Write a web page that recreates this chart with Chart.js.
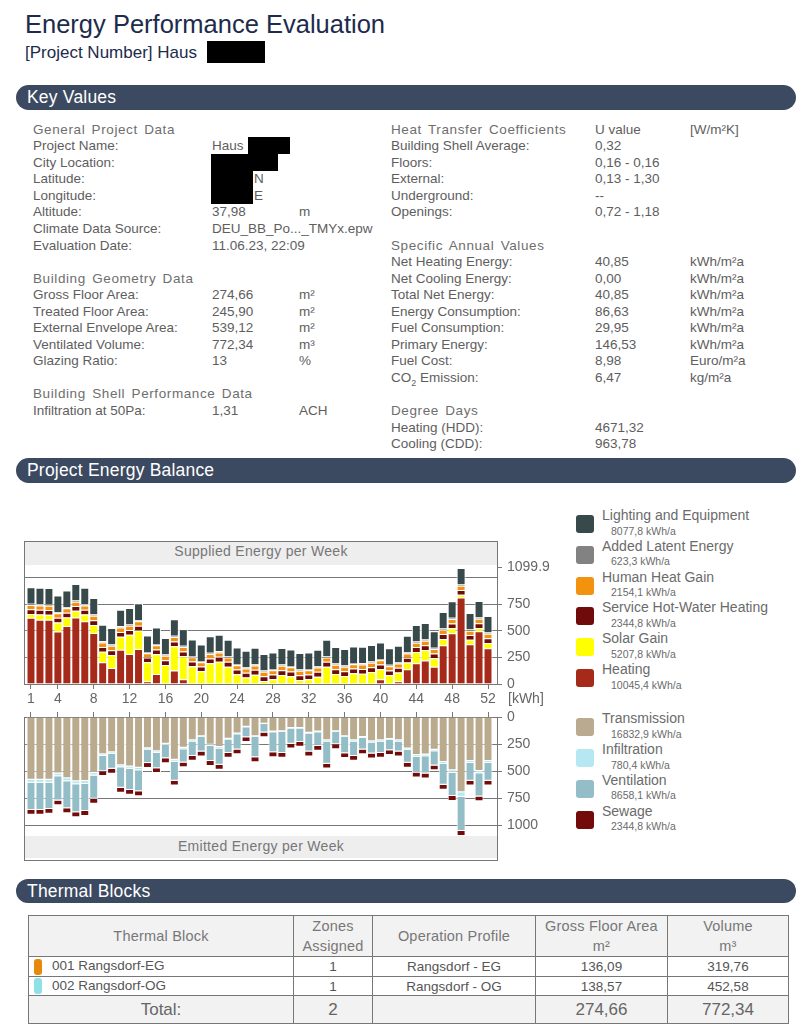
<!DOCTYPE html>
<html>
<head>
<meta charset="utf-8">
<title>Energy Performance Evaluation</title>
<script src="https://cdn.jsdelivr.net/npm/chart.js@4.4.0/dist/chart.umd.min.js"></script>
<style>
  body { margin: 0; background: #fff; font-family: "Liberation Sans", Arial, sans-serif; }
  #page { position: relative; width: 806px; height: 1029px; overflow: hidden; }
  .abs { position: absolute; }
  .title { left: 25px; top: 11.7px; font-size: 25.5px; line-height: 25.5px; color: #1d2b4c; white-space: nowrap; }
  .subtitle { left: 25px; top: 43.6px; font-size: 17px; line-height: 17px; color: #1d2b4c; white-space: nowrap; }
  .blk { position: absolute; background: #000; }
  .bar { left: 16px; width: 780px; height: 25px; border-radius: 12.5px; background: #3c4a61; color: #fff;
         font-size: 17.5px; line-height: 25px; box-sizing: border-box; padding-left: 11px; letter-spacing: 0.2px; }
  .col { font-size: 13.5px; color: #5e5e5e; }
  .row { position: relative; height: 16.55px; line-height: 16.55px; white-space: nowrap; }
  .row .v, .row .u { position: absolute; top: 0; }
  .hd { color: #6e6e6e; letter-spacing: 0.6px; word-spacing: 2px; }
  .chartbox { border: 1px solid #777; box-sizing: border-box; }
  .band { position: absolute; left: 0; right: 0; background: #eeeeee; color: #777; font-size: 14px;
          text-align: center; letter-spacing: 0.3px; }
  canvas { position: absolute; }
  .lg-sq { position: absolute; width: 18px; height: 18px; border-radius: 3px; }
  .lg-name { position: absolute; font-size: 14px; line-height: 16px; color: #6b6b6b; white-space: nowrap; }
  .lg-val { position: absolute; font-size: 10.5px; line-height: 12px; color: #6b6b6b; white-space: nowrap; }
  table.tb { position: absolute; left: 28px; top: 915px; border-collapse: collapse; table-layout: fixed; }
  table.tb td { border: 1px solid #777; padding: 0; text-align: center; color: #555; font-size: 13.5px; white-space: nowrap; }
  table.tb tr.h td { background: #f2f2f2; color: #777; font-size: 14.5px; line-height: 20px; letter-spacing: 0.2px; }
  table.tb tr.t td { background: #f2f2f2; color: #666; font-size: 17px; }
  .mk { display: inline-block; width: 8px; height: 16px; border-radius: 3px; vertical-align: middle; margin: 0 10px 0 5px; }
</style>
</head>
<body>
<div id="page">

  <div class="abs title">Energy Performance Evaluation</div>
  <div class="abs subtitle">[Project Number] Haus</div>
  <div class="blk" style="left:207px;top:41px;width:58px;height:22px;"></div>

  <!-- Key Values -->
  <div class="abs bar" style="top:85px;">Key Values</div>

  <div class="abs col" style="left:33px;top:121.7px;width:340px;">
    <div class="row hd">General Project Data</div>
    <div class="row">Project Name:<span class="v" style="left:179px">Haus</span><span class="blk" style="left:215px;top:-1px;width:42px;height:17px"></span></div>
    <div class="row">City Location:<span class="blk" style="left:178px;top:-1px;width:67px;height:17px"></span></div>
    <div class="row">Latitude:<span class="blk" style="left:178px;top:-1px;width:42px;height:17px"></span><span class="v" style="left:221px">N</span></div>
    <div class="row">Longitude:<span class="blk" style="left:178px;top:-1px;width:42px;height:17px"></span><span class="v" style="left:221px">E</span></div>
    <div class="row">Altitude:<span class="v" style="left:179px">37,98</span><span class="u" style="left:266px">m</span></div>
    <div class="row">Climate Data Source:<span class="v" style="left:179px">DEU_BB_Po..._TMYx.epw</span></div>
    <div class="row">Evaluation Date:<span class="v" style="left:179px">11.06.23, 22:09</span></div>
    <div class="row"></div>
    <div class="row hd">Building Geometry Data</div>
    <div class="row">Gross Floor Area:<span class="v" style="left:179px">274,66</span><span class="u" style="left:266px">m²</span></div>
    <div class="row">Treated Floor Area:<span class="v" style="left:179px">245,90</span><span class="u" style="left:266px">m²</span></div>
    <div class="row">External Envelope Area:<span class="v" style="left:179px">539,12</span><span class="u" style="left:266px">m²</span></div>
    <div class="row">Ventilated Volume:<span class="v" style="left:179px">772,34</span><span class="u" style="left:266px">m³</span></div>
    <div class="row">Glazing Ratio:<span class="v" style="left:179px">13</span><span class="u" style="left:266px">%</span></div>
    <div class="row"></div>
    <div class="row hd">Building Shell Performance Data</div>
    <div class="row">Infiltration at 50Pa:<span class="v" style="left:179px">1,31</span><span class="u" style="left:266px">ACH</span></div>
  </div>

  <div class="abs col" style="left:391px;top:121.7px;width:400px;">
    <div class="row"><span class="hd">Heat Transfer Coefficients</span><span class="v" style="left:204px">U value</span><span class="u" style="left:299px">[W/m²K]</span></div>
    <div class="row">Building Shell Average:<span class="v" style="left:204px">0,32</span></div>
    <div class="row">Floors:<span class="v" style="left:204px">0,16 - 0,16</span></div>
    <div class="row">External:<span class="v" style="left:204px">0,13 - 1,30</span></div>
    <div class="row">Underground:<span class="v" style="left:204px">--</span></div>
    <div class="row">Openings:<span class="v" style="left:204px">0,72 - 1,18</span></div>
    <div class="row"></div>
    <div class="row hd">Specific Annual Values</div>
    <div class="row">Net Heating Energy:<span class="v" style="left:204px">40,85</span><span class="u" style="left:299px">kWh/m²a</span></div>
    <div class="row">Net Cooling Energy:<span class="v" style="left:204px">0,00</span><span class="u" style="left:299px">kWh/m²a</span></div>
    <div class="row">Total Net Energy:<span class="v" style="left:204px">40,85</span><span class="u" style="left:299px">kWh/m²a</span></div>
    <div class="row">Energy Consumption:<span class="v" style="left:204px">86,63</span><span class="u" style="left:299px">kWh/m²a</span></div>
    <div class="row">Fuel Consumption:<span class="v" style="left:204px">29,95</span><span class="u" style="left:299px">kWh/m²a</span></div>
    <div class="row">Primary Energy:<span class="v" style="left:204px">146,53</span><span class="u" style="left:299px">kWh/m²a</span></div>
    <div class="row">Fuel Cost:<span class="v" style="left:204px">8,98</span><span class="u" style="left:299px">Euro/m²a</span></div>
    <div class="row">CO<sub style="font-size:9px;line-height:0">2</sub> Emission:<span class="v" style="left:204px">6,47</span><span class="u" style="left:299px">kg/m²a</span></div>
    <div class="row"></div>
    <div class="row hd">Degree Days</div>
    <div class="row">Heating (HDD):<span class="v" style="left:204px">4671,32</span></div>
    <div class="row">Cooling (CDD):<span class="v" style="left:204px">963,78</span></div>
  </div>

  <!-- Project Energy Balance -->
  <div class="abs bar" style="top:458px;">Project Energy Balance</div>

  <div class="abs chartbox" style="left:24px;top:541px;width:474px;height:144px;">
    <div class="band" style="top:0;height:23px;line-height:18px;">Supplied Energy per Week</div>
  </div>
  <div class="abs chartbox" style="left:24px;top:717px;width:474px;height:144px;">
    <div class="band" style="top:118px;height:22px;line-height:21px;">Emitted Energy per Week</div>
  </div>
  <canvas id="chartSupply" width="544" height="152" style="left:20px;top:556px;"></canvas>
  <canvas id="chartEmit" width="544" height="132" style="left:20px;top:704px;"></canvas>
  <div class="abs" style="left:508px;top:690px;font-size:14px;line-height:16px;color:#666;">[kWh]</div>

  <div id="legend"></div>

  <!-- Thermal Blocks -->
  <div class="abs bar" style="top:879px;height:24px;line-height:24px;">Thermal Blocks</div>

  <table class="tb">
    <colgroup><col style="width:265px"><col style="width:79px"><col style="width:163px"><col style="width:132px"><col style="width:121px"></colgroup>
    <tr class="h" style="height:40px"><td>Thermal Block</td><td>Zones<br>Assigned</td><td>Operation Profile</td><td>Gross Floor Area<br>m²</td><td>Volume<br>m³</td></tr>
    <tr style="height:20px"><td style="text-align:left"><span class="mk" style="background:#e8890b"></span>001 Rangsdorf-EG</td><td>1</td><td>Rangsdorf - EG</td><td>136,09</td><td>319,76</td></tr>
    <tr style="height:19px"><td style="text-align:left"><span class="mk" style="background:#8fe1e8"></span>002 Rangsdorf-OG</td><td>1</td><td>Rangsdorf - OG</td><td>138,57</td><td>452,58</td></tr>
    <tr class="t" style="height:28px"><td>Total:</td><td>2</td><td></td><td>274,66</td><td>772,34</td></tr>
  </table>
</div>

<script>
// ---- Données (kWh par semaine) ----
const weeks = [1,2,3,4,5,6,7,8,9,10,11,12,13,14,15,16,17,18,19,20,21,22,23,24,25,26,
               27,28,29,30,31,32,33,34,35,36,37,38,39,40,41,42,43,44,45,46,47,48,49,50,51,52];
const weekTicks = [1,4,8,12,16,20,24,28,32,36,40,44,48,52];

// énergie fournie
const heating = [622,603,603,493,546,625,590,480,204,151,323,283,330,25,94,0,126,44,0,0,0,0,0,0,0,0,
                 0,0,0,0,0,0,0,0,0,0,0,0,0,44,0,25,138,195,220,163,364,477,813,374,496,336];
const solar = [35,50,47,85,79,63,63,75,100,122,122,179,173,179,185,179,229,217,166,119,195,210,163,91,60,88,
               28,44,85,72,38,44,69,163,94,75,100,97,113,94,82,82,63,107,100,79,60,47,25,41,31,50];
const hotWater = [45,45,45,45,45,45,45,45,45,45,45,45,45,45,45,45,45,45,45,45,45,45,45,45,45,45,
                  45,45,45,45,45,45,45,45,45,45,45,45,45,45,45,45,45,45,45,45,45,45,45,45,45,45];
const humanHeat = [41,41,41,41,41,41,41,41,41,41,41,41,41,41,41,41,41,41,41,41,41,41,41,41,41,41,
                   41,41,41,41,41,41,41,41,41,41,41,41,41,41,41,41,41,41,41,41,41,41,41,41,41,41];
const latent = [12,12,12,12,12,12,12,12,12,12,12,12,12,12,12,12,12,12,12,12,12,12,12,12,12,12,
                12,12,12,12,12,12,12,12,12,12,12,12,12,12,12,12,12,12,12,12,12,12,12,12,12,12];
const lighting = [155,155,155,155,155,155,155,155,155,155,155,155,155,155,155,155,155,155,155,155,155,155,155,155,155,155,
                  155,155,155,155,155,155,155,155,155,155,155,155,155,155,155,155,155,155,155,155,155,155,155,155,155,155];

// énergie émise
const transmission = [580,580,580,523,567,595,592,517,344,325,445,457,470,288,316,247,395,285,216,178,256,278,200,153,90,178,
                      62,134,131,102,102,146,134,216,131,178,216,184,225,216,203,216,291,351,347,303,416,492,696,407,498,407];
const infiltration = [27,27,27,24,26,27,27,24,16,15,20,21,22,13,15,11,18,13,10,8,12,13,9,7,4,8,
                      3,6,6,5,5,7,6,10,6,8,10,8,10,10,9,10,13,16,16,14,19,23,40,19,23,19];
const ventilation = [252,252,243,224,251,259,250,215,141,139,190,196,195,125,142,124,176,122,134,133,139,151,123,140,93,187,
                     78,186,195,140,124,166,126,206,116,149,134,108,103,106,95,93,119,147,160,131,192,216,318,163,213,163];
const sewage = [45,45,45,45,45,45,45,45,45,45,45,45,45,45,45,45,45,45,45,45,45,45,45,45,45,45,
                45,45,45,45,45,45,45,45,45,45,45,45,45,45,45,45,45,45,45,45,45,45,45,45,45,45];

// axes
const yMax = 1099.9;
const supplyTicks = [0, 250, 500, 750, 1000, 1099.9];
const emitTicks = [0, 250, 500, 750, 1000];

// légende (ordre d'affichage, de haut en bas)
const supplyNames = ['Lighting and Equipment','Added Latent Energy','Human Heat Gain','Service Hot-Water Heating','Solar Gain','Heating'];
const supplyTotals = ['8077,8 kWh/a','623,3 kWh/a','2154,1 kWh/a','2344,8 kWh/a','5207,8 kWh/a','10045,4 kWh/a'];
const emitNames = ['Transmission','Infiltration','Ventilation','Sewage'];
const emitTotals = ['16832,9 kWh/a','780,4 kWh/a','8658,1 kWh/a','2344,8 kWh/a'];

// couleurs
const supplyColors = ['#37494a','#828282','#f3920f','#6f0b0b','#ffff00','#a62a1a'];
const emitColors = ['#baab8f','#b5e8f3','#93bec8','#740b0b'];

// ---- Légende HTML ----
const legend = document.getElementById('legend');
function addLegendItem(name, total, color, top) {
  legend.insertAdjacentHTML('beforeend',
    `<div class="lg-sq" style="left:576px;top:${top}px;background:${color}"></div>` +
    `<div class="lg-name" style="left:602px;top:${top - 8}px">${name}</div>` +
    `<div class="lg-val" style="left:611px;top:${top + 9.5}px">${total}</div>`);
}
supplyNames.forEach((n, i) => addLegendItem(n, supplyTotals[i], supplyColors[i], 515 + i * 30.8));
emitNames.forEach((n, i) => addLegendItem(n, emitTotals[i], emitColors[i], 718.3 + i * 30.8));

// ---- Graphiques ----
Chart.defaults.font.family = '"Liberation Sans", Arial, sans-serif';
Chart.defaults.color = '#666';

const gridColor = '#777';
const xMin = 0.219, xMax = 53.004;

function mkSet(label, data, color, border) {
  return {
    label, data, backgroundColor: color,
    borderColor: '#ffffff', borderWidth: border, borderSkipped: false,
    inflateAmount: 0, categoryPercentage: 1, barPercentage: 1
  };
}

// axe des semaines commun aux deux graphiques
function weekAxis(position, height, showLabels) {
  return {
    type: 'linear', position, min: xMin, max: xMax, stacked: true, offset: false,
    afterBuildTicks: s => { s.ticks = weekTicks.map(v => ({ value: v })); },
    afterFit: s => { s.height = height; s.paddingLeft = 0; s.paddingRight = 0; },
    grid: { drawOnChartArea: false, offset: false, tickLength: 5, color: gridColor },
    border: { display: true, color: gridColor },
    ticks: showLabels
      ? { autoSkip: false, maxRotation: 0, padding: 2, font: { size: 14 }, color: '#666' }
      : { autoSkip: false, maxRotation: 0, font: { size: 1 }, color: 'rgba(0,0,0,0)' }
  };
}

// axe des kWh à droite (largeur fixe, sans marge automatique)
function fitKwhAxis(s) {
  s.width = 67;
  s.paddingTop = 0;
  s.paddingBottom = 0;
}

// énergie fournie : empilée du bas vers le haut
const supplyBorder = { top: 1, left: 1, right: 1, bottom: 0 };
const supplySeries = [heating, solar, hotWater, humanHeat, latent, lighting];
const supplySets = supplySeries.map((d, i) =>
  mkSet(supplyNames[5 - i], d, supplyColors[5 - i], supplyBorder));

new Chart(document.getElementById('chartSupply'), {
  type: 'bar',
  data: { labels: weeks, datasets: supplySets },
  options: {
    responsive: false, animation: false,
    layout: { padding: { left: 4, top: 11, right: 0, bottom: 0 } },
    plugins: { legend: { display: false }, tooltip: { enabled: false } },
    scales: {
      x: weekAxis('bottom', 24, true),
      y: {
        position: 'right', stacked: true, min: 0, max: yMax,
        afterBuildTicks: s => { s.ticks = supplyTicks.map(v => ({ value: v })); },
        afterFit: fitKwhAxis,
        grid: {
          tickLength: 5,
          color: c => (c.tick && c.tick.value > 1050 ? 'rgba(0,0,0,0)' : gridColor),
          tickColor: c => (c.tick && c.tick.value === 1000 ? 'rgba(0,0,0,0)' : gridColor)
        },
        border: { display: false },
        ticks: { padding: 5, font: { size: 14 }, color: '#666',
                 callback: v => (v === 1000 ? '' : String(v)) }
      }
    }
  }
});

// énergie émise : vers le bas
const emitBorder = { top: 0, left: 1, right: 1, bottom: 1 };
const emitSeries = [transmission, infiltration, ventilation, sewage];
const emitSets = emitSeries.map((d, i) => mkSet(emitNames[i], d, emitColors[i], emitBorder));

new Chart(document.getElementById('chartEmit'), {
  type: 'bar',
  data: { labels: weeks, datasets: emitSets },
  options: {
    responsive: false, animation: false,
    layout: { padding: { left: 4, top: 0, right: 0, bottom: 0 } },
    plugins: { legend: { display: false }, tooltip: { enabled: false } },
    scales: {
      x: weekAxis('top', 13, false),
      y: {
        position: 'right', stacked: true, reverse: true, min: 0, max: yMax,
        afterBuildTicks: s => { s.ticks = emitTicks.map(v => ({ value: v })); },
        afterFit: fitKwhAxis,
        grid: { tickLength: 5, color: gridColor },
        border: { display: false },
        ticks: { padding: 5, font: { size: 14 }, color: '#666', callback: v => String(v) }
      }
    }
  }
});
</script>
</body>
</html>
